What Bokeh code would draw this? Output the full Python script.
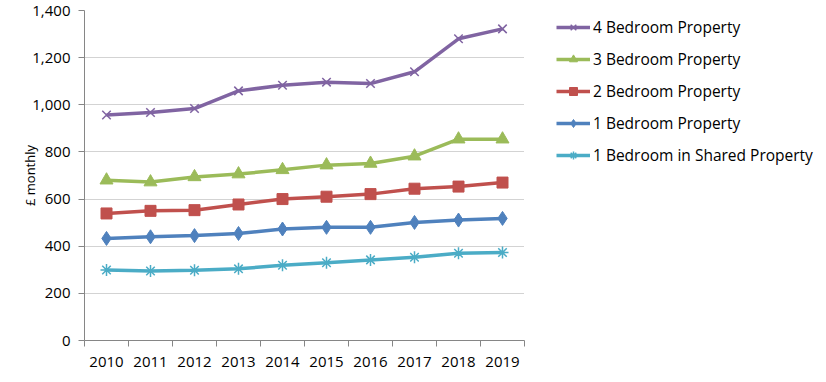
import numpy as np
from bokeh.plotting import figure
from bokeh.models import FixedTicker, Range1d, Legend, LegendItem, NumeralTickFormatter
from bokeh.embed import file_html
from bokeh.resources import INLINE

years = ["2010", "2011", "2012", "2013", "2014", "2015", "2016", "2017", "2018", "2019"]
bed4 = [957, 967, 984, 1059, 1083, 1096, 1090, 1140, 1280, 1322]
bed3 = [680, 672, 694, 706, 724, 744, 751, 782, 854, 854]
bed2 = [539, 550, 553, 577, 600, 610, 621, 644, 653, 670]
bed1 = [433, 440, 445, 454, 473, 480, 480, 501, 511, 518]
shared = [299, 295, 298, 304, 319, 330, 342, 353, 370, 373]

series = [
    ("4 Bedroom Property", bed4, "#8064A2", "x", 12),
    ("3 Bedroom Property", bed3, "#9BBB59", "triangle", 13),
    ("2 Bedroom Property", bed2, "#C0504D", "square", 11),
    ("1 Bedroom Property", bed1, "#4F81BD", "diamond", 14),
    ("1 Bedroom in Shared Property", shared, "#4BACC6", "asterisk", 12),
]

xs = np.arange(len(years)) + 0.5
FONT = "Open Sans"

p = figure(width=810, height=372, output_backend="svg", toolbar_location=None,
           x_range=Range1d(0, len(years)), y_range=Range1d(0, 1400),
           min_border_left=84, min_border_top=10, min_border_bottom=32, min_border_right=286)
p.frame_width = 440
p.frame_height = 330
p.outline_line_color = None

p.xaxis.ticker = FixedTicker(ticks=list(xs), minor_ticks=list(range(len(years) + 1)))
p.xaxis.major_label_overrides = {float(x): y for x, y in zip(xs, years)}
p.xaxis.major_tick_out = 0
p.xaxis.major_tick_in = 0
p.xaxis.minor_tick_out = 6
p.xaxis.minor_tick_in = 0
p.xaxis.axis_line_color = "#868686"
p.xaxis.minor_tick_line_color = "#868686"
p.xaxis.major_label_text_font = FONT
p.xaxis.major_label_text_font_size = "15px"
p.xaxis.major_label_text_color = "#000000"
p.xaxis.major_label_standoff = 10

p.yaxis.ticker = FixedTicker(ticks=list(range(0, 1401, 200)))
p.yaxis.formatter = NumeralTickFormatter(format="0,0")
p.yaxis.major_tick_out = 6
p.yaxis.major_tick_in = 0
p.yaxis.minor_tick_line_color = None
p.yaxis.axis_line_color = "#868686"
p.yaxis.major_tick_line_color = "#868686"
p.yaxis.major_label_text_font = FONT
p.yaxis.major_label_text_font_size = "15px"
p.yaxis.major_label_text_color = "#000000"
p.yaxis.major_label_standoff = 8
p.yaxis.axis_label = "£ monthly"
p.yaxis.axis_label_text_font = FONT
p.yaxis.axis_label_text_font_size = "13px"
p.yaxis.axis_label_text_font_style = "normal"
p.yaxis.axis_label_text_color = "#000000"
p.yaxis.axis_label_standoff = -10

p.xgrid.grid_line_color = None
p.ygrid.grid_line_color = "#A6A6A6"
p.ygrid.grid_line_dash = "1 1"
p.ygrid.grid_line_width = 1

items = []
for name, vals, color, marker, size in series:
    r1 = p.line(xs, vals, line_color=color, line_width=3.5)
    r2 = p.scatter(xs, vals, marker=marker, size=size, fill_color=color,
                   line_color=color, line_width=1.5 if marker in ("x", "asterisk") else 1)
    items.append(LegendItem(label=name, renderers=[r1, r2]))

legend = Legend(items=items, location=(32, 174), orientation="vertical")
legend.label_text_font = FONT
legend.label_text_font_size = "15.5px"
legend.label_text_color = "#000000"
legend.glyph_width = 34
legend.glyph_height = 20
legend.label_height = 20
legend.spacing = 10
legend.padding = 0
legend.margin = 0
legend.label_standoff = 3
legend.border_line_color = None
legend.background_fill_alpha = 0
p.add_layout(legend, "right")

open("out.html", "w").write(file_html(p, INLINE))
